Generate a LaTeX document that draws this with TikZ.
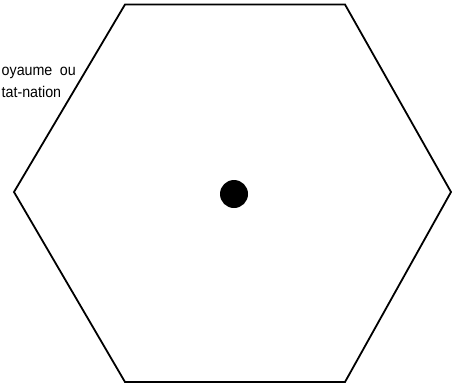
\documentclass[tikz,border=0pt]{standalone}
\usepackage{fontspec}
\setmainfont{Liberation Sans}
\newfontfamily\labelfont[FakeStretch=0.92]{Liberation Sans}
\usepackage{tikz}
\usetikzlibrary{positioning}
\definecolor{mydark}{RGB}{0,0,0}
\tikzset{
  hexline/.style={line width=1.8pt, color=mydark, line join=miter},
  capital/.style={circle, fill=mydark, minimum size=28pt, inner sep=0pt},
  labeltext/.style={font=\labelfont\fontsize{15.5}{22}\selectfont, inner sep=0pt, anchor=base west}
}

\begin{document}
\begin{tikzpicture}[x=1pt, y=-1pt]
  \useasboundingbox (0,0) rectangle (452,384);

  % Hexagon corners
  \coordinate (tl) at (125,4.5);
  \coordinate (tr) at (345,4.5);
  \coordinate (rt) at (451,192);
  \coordinate (br) at (345,382);
  \coordinate (bl) at (125,382);
  \coordinate (lf) at (14,192);

  % Territory border
  \draw[hexline] (tl) -- (tr) -- (rt) -- (br) -- (bl) -- (lf) -- cycle;

  % Centre
  \node[capital] (centre) at (234,194) {};

  % Label
  \node[labeltext] (kingdom) at (1.5,75) {oyaume\hspace{7.5pt}ou};
  \node[labeltext] (nation) at (1.5,97) {tat-nation};
\end{tikzpicture}
\end{document}
